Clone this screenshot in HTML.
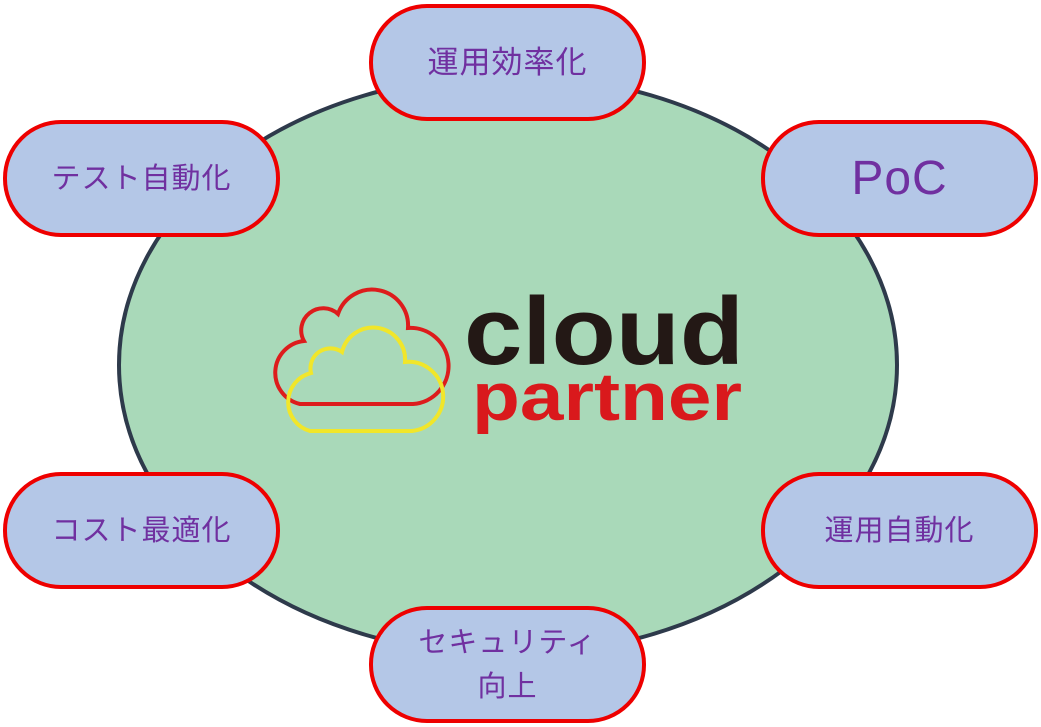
<!DOCTYPE html>
<html><head><meta charset="utf-8"><style>
body{margin:0;width:1041px;height:727px;background:#fff;overflow:hidden;position:relative;font-family:"Liberation Sans","Noto Sans CJK JP",sans-serif}
.p{position:absolute;width:277px;height:117px;box-sizing:border-box;border:4px solid #ee0000;border-radius:58px;background:#b4c7e7;color:#7030a0;display:flex;align-items:center;justify-content:center;text-align:center;font-size:29px;line-height:44px;letter-spacing:1px}
</style></head><body>
<svg width="1041" height="727" style="position:absolute;left:0;top:0">
<ellipse cx="508" cy="365" rx="389" ry="290" fill="#a9d9b9" stroke="#2e3a4b" stroke-width="4"/>
<path d="M300,404 L413,404 A24,24 0 0 0 408,328 A36,36 0 0 0 338,314 A22,22 0 0 0 304,341 A32,32 0 0 0 300,404 Z" fill="none" stroke="#dd1c1c" stroke-width="4"/>
<path d="M310,431 L412,431 A24,24 0 0 0 405,362 A32,32 0 0 0 342,352 A20,20 0 0 0 311,373 A30,30 0 0 0 310,431 Z" fill="none" stroke="#f1e62a" stroke-width="4"/>
<text x="464" y="364" font-family="Liberation Sans" font-weight="bold" font-size="96" fill="#231815" textLength="280" lengthAdjust="spacingAndGlyphs">cloud</text>
<text x="472" y="420" font-family="Liberation Sans" font-weight="bold" font-size="68" fill="#d9191c" textLength="270" lengthAdjust="spacingAndGlyphs">partner</text>
</svg>
<div class="p" style="left:369px;top:4px;font-size:31px">運用効率化</div>
<div class="p" style="left:3px;top:120px">テスト自動化</div>
<div class="p" style="left:761px;top:120px;font-size:48px">PoC</div>
<div class="p" style="left:3px;top:472px">コスト最適化</div>
<div class="p" style="left:761px;top:472px">運用自動化</div>
<div class="p" style="left:369px;top:606px">セキュリティ<br>向上</div>
</body></html>
